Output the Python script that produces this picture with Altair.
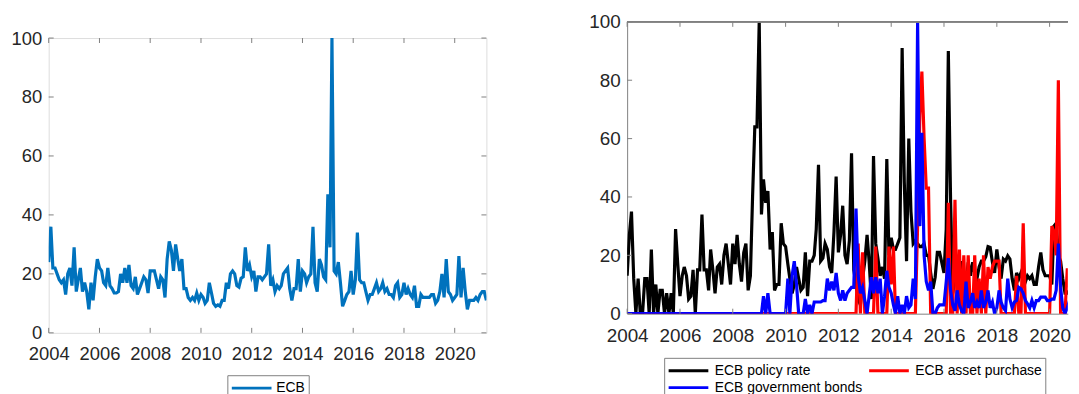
import altair as alt
import pandas as pd

FONT = "Liberation Sans"
AXC = "#808080"
TXT = "#262626"

# ---- data (monthly, starting Jan 2004) ----
ecb = [
    24, 36, 22, 22, 20, 18, 17, 18, 13, 20,
    22, 16, 29, 14, 18, 22, 14, 17, 14, 8,
    17, 11, 19, 25, 22, 21, 17, 16, 22, 16,
    15, 13.5, 13.5, 14, 20, 17, 22, 17, 23, 16,
    15, 19, 13, 15, 17, 19, 18, 13.5, 21, 21,
    21, 18, 15, 19, 18, 12, 25, 31, 28, 21,
    30, 25, 21, 25, 15, 15, 12, 11, 12, 11,
    13.5, 11, 13, 12, 10, 11, 17, 13.5, 10, 9,
    9.5, 9, 11, 11, 17, 15, 20, 21, 20, 16,
    15.5, 18.5, 19, 29, 21, 23, 19, 21, 14, 19,
    19, 18, 19, 20, 30, 16, 18, 14, 16, 15,
    16, 20, 21, 22, 15, 11, 15, 15, 25, 14,
    21, 20, 17, 19, 20, 36, 17, 14, 25, 23,
    19, 18, 47, 29, 100, 21, 20, 24, 17, 9,
    11, 13, 14, 21, 13, 18, 34, 18, 17, 17,
    14, 11, 13, 13, 15, 17, 14, 15, 17, 14,
    15, 13, 13, 12, 16, 17, 12, 13, 17, 13,
    15, 13, 12, 16, 9, 9, 13, 12, 12, 12,
    12, 13, 13, 10, 11, 14, 20, 12, 25, 14,
    13, 11, 12, 13, 26, 12, 22, 14, 8, 11,
    11, 11, 12, 11, 13, 14, 14, 11,
]

policy_rate = [
    13, 27, 35, 12, 0, 12, 0, 0, 12, 12,
    0, 22, 0, 10, 0, 8, 8, 0, 7, 0,
    7, 0, 29, 17, 6, 13, 16, 13, 5, 6,
    15, 0, 15, 15, 34, 15, 15, 8, 22, 15,
    7, 16, 17, 10, 20, 24, 17, 10, 24, 17,
    27, 17, 11, 21, 24, 8, 13, 40, 64, 64,
    100, 34, 46, 38, 42, 22, 28, 8, 10, 10,
    31, 24, 23, 17, 12, 7, 10, 16, 12, 8,
    9, 21, 6, 18, 18, 20, 29, 51, 18, 19,
    24, 22, 16, 14, 28, 47, 21, 27, 37, 20,
    17, 25, 55, 15, 10, 5, 3, 12, 18, 27,
    18, 5, 54, 24, 19, 13, 16, 12, 53, 20,
    26, 22, 22, 24, 26, 91, 45, 18, 60, 35,
    24, 25, 24, 23, 23, 24, 20, 20, 14, 8.5,
    12.5, 21, 21, 17.6, 14, 29, 90, 39, 7, 12,
    16, 12, 18, 8, 10, 17.6, 13, 17.6, 14, 12,
    16, 18, 18, 19.5, 23, 22.7, 17.6, 14, 22, 16,
    12, 18.7, 18, 19.8, 18.7, 12, 8, 14, 12, 14,
    12, 11, 13, 12, 13, 10, 10, 16, 21, 15,
    13, 13, 13, 10, 30, 31, 20, 18, 12, 7,
    7, 8, 7, 5, 4,
]

asset_purchase = [
    0, 0, 0, 0, 0, 0, 0, 0, 0, 0,
    0, 0, 0, 0, 0, 0, 0, 0, 0, 0,
    0, 0, 0, 0, 0, 0, 0, 0, 0, 0,
    0, 0, 0, 0, 0, 0, 0, 0, 0, 0,
    0, 0, 0, 0, 0, 0, 0, 0, 0, 0,
    0, 0, 0, 0, 0, 0, 0, 0, 0, 0,
    0, 0, 0, 0, 0, 0, 0, 0, 0, 0,
    0, 0, 0, 0, 0, 0, 0, 0, 0, 0,
    0, 0, 0, 0, 0, 0, 0, 0, 0, 0,
    0, 0, 0, 0, 0, 0, 0, 0, 0, 0,
    0, 0, 0, 0, 0, 24, 0, 21, 0, 0,
    0, 0, 0, 23, 0, 0, 0, 0, 0, 23,
    10, 23, 0, 0, 0, 0, 0, 0, 0, 0,
    0, 0, 30, 68, 83, 60, 43, 43, 0, 0,
    0, 0, 0, 0, 0, 0, 38, 0, 0, 39,
    0, 22, 0, 20, 0, 20, 0, 0, 20, 0,
    12, 0, 20, 0, 16, 12, 16, 18, 18, 18,
    0, 0, 0, 0, 0, 0, 0, 13, 0, 0,
    31, 0, 0, 0, 0, 0, 0, 0, 0, 0,
    0, 0, 0, 30, 28, 20, 80, 0, 0, 0,
    15, 15, 5, 0, 28,
]

government_bonds = [
    0, 0, 0, 0, 0, 0, 0, 0, 0, 0,
    0, 0, 0, 0, 0, 0, 0, 0, 0, 0,
    0, 0, 0, 0, 0, 0, 0, 0, 0, 0,
    0, 0, 0, 0, 0, 0, 0, 0, 0, 0,
    0, 0, 0, 0, 0, 0, 0, 0, 0, 0,
    0, 0, 0, 0, 0, 0, 0, 0, 0, 0,
    0, 0, 6, 0, 7, 0, 0, 0, 0, 0,
    0, 0, 0, 12, 0, 13, 18, 10, 0, 0,
    0, 5, 0, 3, 0, 4, 4, 4, 4, 4.5,
    4.5, 12, 8, 11, 8, 14, 7, 4.5, 8, 4.5,
    7, 8, 9, 9, 36, 13, 7, 9, 4.5, 0,
    6, 12.5, 7, 12.5, 7, 12, 0, 6, 14.7, 9,
    7, 3, 0, 6, 0, 3, 0, 6, 2, 3,
    12, 5, 100, 30, 62, 20, 11, 8, 11, 0,
    0, 2, 3, 3, 3, 11, 19, 8, 3, 1,
    8, 3, 1, 0, 11, 2, 4, 7, 2, 4,
    2, 8, 2, 4, 8, 2, 4, 0, 2, 8,
    4, 2, 1, 12, 5, 2, 4, 4.5, 9, 8.5,
    7, 4.5, 3.4, 2, 4.5, 2, 4.5, 4.5, 5.7, 5.7,
    5.7, 4.5, 4.5, 5, 5, 8, 24, 9, 2, 0,
    2, 4.5, 6, 8, 4.5,
]

series_names = ["ECB policy rate", "ECB asset purchase", "ECB government bonds"]
series_colors = ["#000000", "#FF0000", "#0000FF"]
x_tick_years = [2004, 2006, 2008, 2010, 2012, 2014, 2016, 2018, 2020]
y_tick_values = [0, 20, 40, 60, 80, 100]

# ---- tables ----
left_dates = pd.date_range("2004-01-01", periods=len(ecb), freq="MS")
right_dates = pd.date_range("2004-01-01", periods=len(policy_rate), freq="MS")
left_df = pd.DataFrame({"date": left_dates, "value": ecb, "series": "ECB"})
right_df = pd.concat(
    [pd.DataFrame({"date": right_dates, "value": vals, "series": name})
     for name, vals in zip(series_names, [policy_rate, asset_purchase, government_bonds])],
    ignore_index=True,
)
xt_df = pd.DataFrame({"date": pd.to_datetime([f"{y}-01-01" for y in x_tick_years])})
yt_df = pd.DataFrame({"value": y_tick_values})

W1, H1 = 441, 297
W2, H2 = 444, 294          # right panel is cut by the page edge, as in the original
LW = 3.2
# legend line sample: custom path spanning 40px when symbolSize=289 (sqrt=17, r=8.5)
LEG_PATH = "M-1,0H3.706"


def dt(ts):
    return alt.DateTime(year=ts.year, month=ts.month, date=ts.day)


def x_axis(fs, pad, domain):
    return alt.Axis(values=[alt.DateTime(year=y, month=1, date=1) for y in x_tick_years],
                    format="%Y", labelFontSize=fs, labelFont=FONT, labelColor=TXT,
                    labelPadding=pad, ticks=False, tickSize=0, domain=domain,
                    domainColor=AXC, domainWidth=1, grid=False, title=None,
                    labelFlush=False, labelOverlap=False)


def y_axis(fs, pad, domain):
    return alt.Axis(values=y_tick_values, labelFontSize=fs, labelFont=FONT, labelColor=TXT,
                    labelPadding=pad, ticks=False, tickSize=0, domain=domain,
                    domainColor=AXC, domainWidth=1, grid=False, title=None)


def tick_layers(xenc, yenc, W, H, right_side=True):
    rules = [
        alt.Chart(xt_df).mark_rule(color=AXC, strokeWidth=1).encode(
            x=xenc, y=alt.value(H), y2=alt.value(H - 5)),
        alt.Chart(xt_df).mark_rule(color=AXC, strokeWidth=1).encode(
            x=xenc, y=alt.value(0), y2=alt.value(5)),
        alt.Chart(yt_df).mark_rule(color=AXC, strokeWidth=1).encode(
            y=yenc, x=alt.value(0), x2=alt.value(5)),
    ]
    if right_side:
        rules.append(alt.Chart(yt_df).mark_rule(color=AXC, strokeWidth=1).encode(
            y=yenc, x=alt.value(W), x2=alt.value(W - 5)))
    return rules


# ---- left panel ----
x1 = alt.X("date:T", scale=alt.Scale(domain=[dt(left_dates[0]), dt(left_dates[-1])]),
           axis=x_axis(18.5, 12, False))
y1 = alt.Y("value:Q", scale=alt.Scale(domain=[0, 100], nice=False), axis=y_axis(18.5, 7, False))
leg1 = alt.Legend(orient="none", legendX=180, legendY=356, title=None,
                  symbolType=LEG_PATH, symbolSize=289, symbolStrokeWidth=3,
                  labelFontSize=14, labelFont=FONT, labelColor="#000000",
                  labelOffset=26.3, padding=3, strokeColor=AXC, fillColor="#ffffff")
left_line = alt.Chart(left_df).mark_line(strokeWidth=LW, clip=True).encode(
    x=x1, y=y1,
    color=alt.Color("series:N", scale=alt.Scale(domain=["ECB"], range=["#0072BD"]), legend=leg1),
)
left_core = alt.layer(left_line, *tick_layers(x1, y1, W1, H1)).properties(width=W1, height=H1)
spacer = alt.Chart(yt_df).mark_rule(opacity=0).encode(y=alt.value(0)).properties(
    width=W1, height=2, view=alt.ViewBackground(strokeOpacity=0))
left = alt.vconcat(spacer, left_core, spacing=4.3)

# ---- right panel ----
x2 = alt.X("date:T", scale=alt.Scale(domain=[dt(right_dates[0]),
                                              alt.DateTime(year=2020, month=9, date=9)]),
           axis=x_axis(19, 13.5, True))
y2 = alt.Y("value:Q", scale=alt.Scale(domain=[0, 100], nice=False), axis=y_axis(19, 7, True))
cscale = alt.Scale(domain=series_names, range=series_colors)
leg2 = alt.Legend(orient="none", legendX=37.3, legendY=338.5, title=None, columns=2,
                  direction="horizontal", symbolType=LEG_PATH, symbolSize=289,
                  symbolStrokeWidth=3, labelFontSize=14, labelFont=FONT, labelColor="#000000",
                  labelOffset=28, padding=3, columnPadding=0, rowPadding=0,
                  strokeColor=AXC, fillColor="#ffffff")
right_lines = [
    alt.Chart(right_df).transform_filter(alt.datum.series == name)
    .mark_line(strokeWidth=LW, clip=True).encode(
        x=x2, y=y2, color=alt.Color("series:N", scale=cscale, legend=leg2))
    for name in series_names
]
top_frame = alt.Chart(yt_df).mark_rule(color=AXC, strokeWidth=1).encode(
    x=alt.value(0), x2=alt.value(W2), y=alt.value(0))
right = alt.layer(*right_lines, top_frame,
                  *tick_layers(x2, y2, W2, H2, right_side=False)).properties(
    width=W2, height=H2, view=alt.ViewBackground(strokeOpacity=0),
)

chart = alt.hconcat(left, right, spacing=101.8).resolve_scale(
    color="independent"
).resolve_legend(color="independent").properties(
    padding={"left": 2, "top": 3.5, "right": 0, "bottom": 0}
).configure_view(stroke=AXC, strokeWidth=1).configure(background="#ffffff")

chart.save("out.html", embed_options={"renderer": "svg", "actions": False})
